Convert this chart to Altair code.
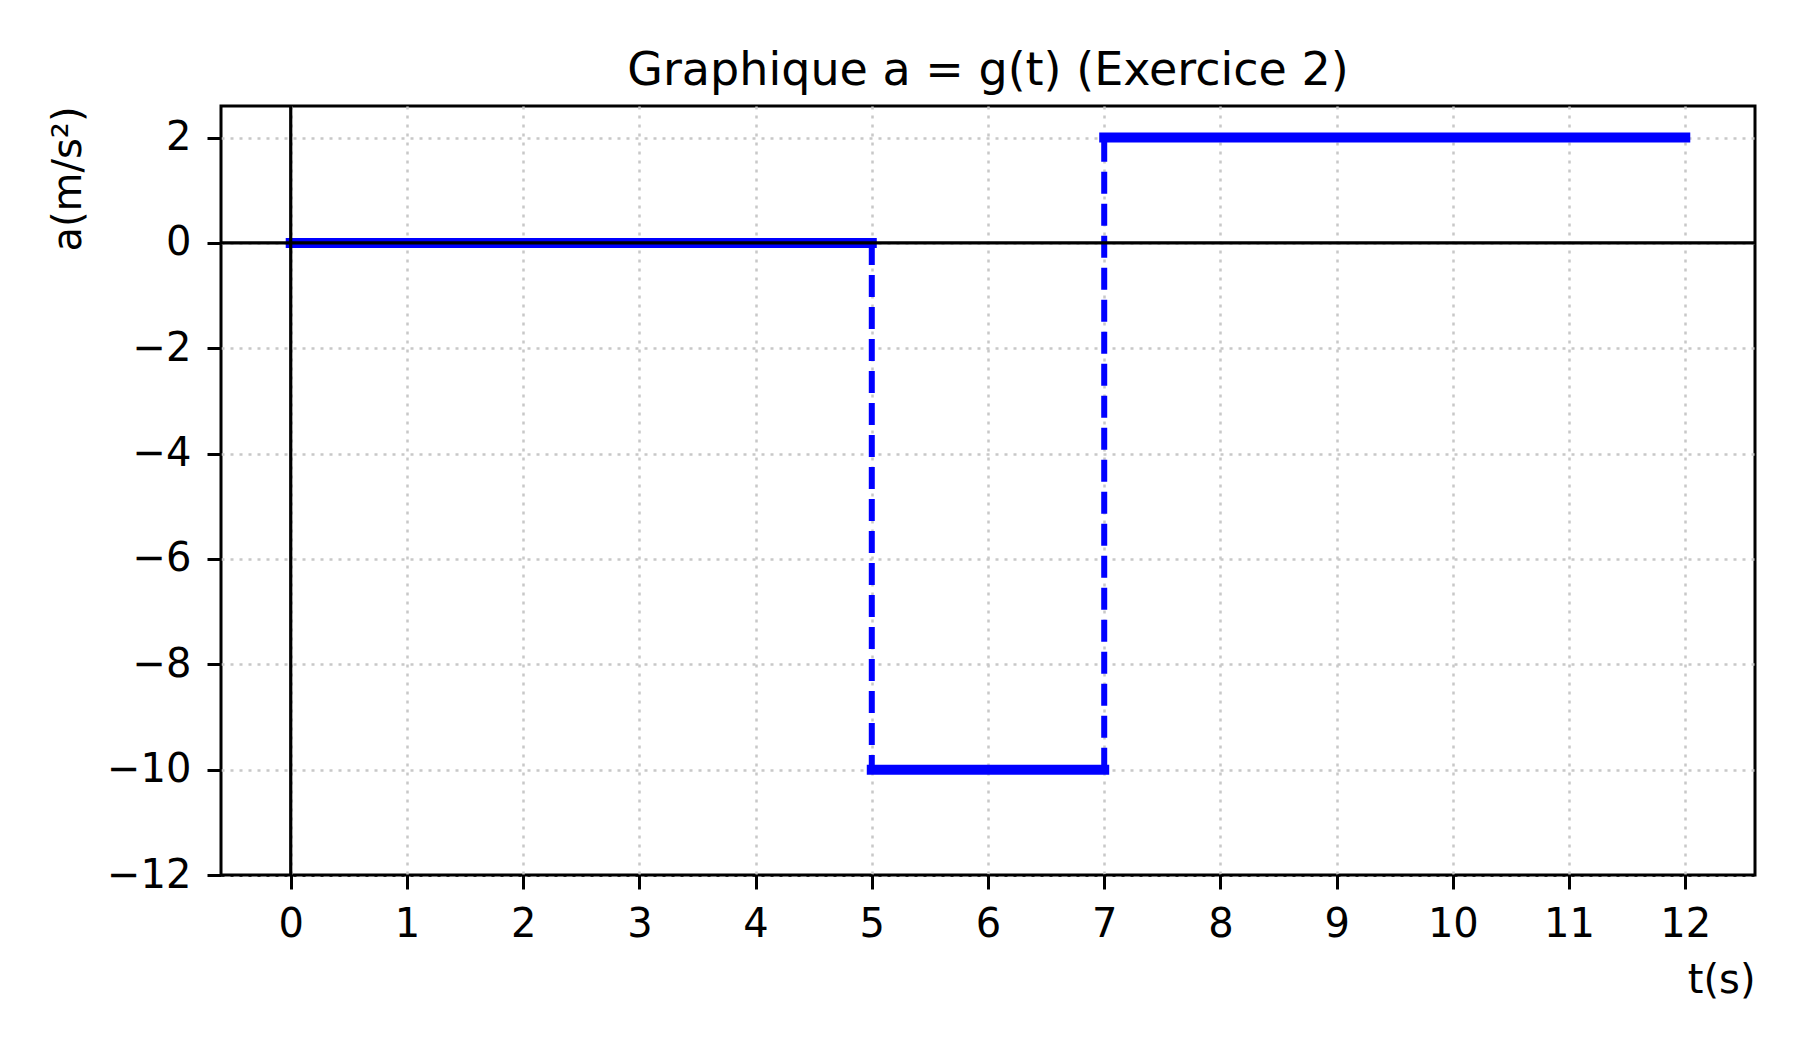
import altair as alt
import pandas as pd

# step function a = g(t)
t_start = [0, 5, 7]
t_end = [5, 7, 12]
a_value = [0, -10, 2]

# vertical jumps between the steps
t_jump = [5, 7]
a_from = [0, -10]
a_to = [-10, 2]

x_ticks = list(range(0, 13))
y_ticks = [-12, -10, -8, -6, -4, -2, 0, 2]

FONT = "DejaVu Sans"
BLUE = "#0000ff"
GRID = "#c8c8c8"

steps = pd.DataFrame({"t0": t_start, "t1": t_end, "a": a_value})
jumps = pd.DataFrame({"t": t_jump, "a0": a_from, "a1": a_to})
origin = pd.DataFrame({"v": [0]})

x_scale = alt.Scale(domain=[-0.6, 12.6], nice=False, zero=False)
y_scale = alt.Scale(domain=[-12, 2.6], nice=False, zero=False)

x_axis = alt.Axis(
    values=x_ticks, format="d", title="t(s)", titleAnchor="end",
    titleAlign="right", titleX=1534, titleY=117, titleBaseline="alphabetic",
    labelPadding=15,
)
y_axis = alt.Axis(
    values=y_ticks, format="d", title="a(m/s²)", titleAnchor="end",
    titleAngle=270, titleAlign="right", titleBaseline="alphabetic",
    titleX=-141, titleY=0, labelPadding=16,
    labelExpr="replace(datum.label, '-', '\u2212')",
    # the -12 grid line sits on the frame: keep the frame solid there
    gridColor={"condition": {"test": "datum.value == -12", "value": "black"},
               "value": GRID},
)

flat = alt.Chart(steps).mark_rule(
    color=BLUE, strokeWidth=10, strokeCap="square"
).encode(
    x=alt.X("t0:Q", scale=x_scale, axis=x_axis),
    x2="t1:Q",
    y=alt.Y("a:Q", scale=y_scale, axis=y_axis),
)

vertical = alt.Chart(jumps).mark_rule(
    color=BLUE, strokeWidth=6, strokeDash=[22, 10], strokeCap="butt"
).encode(
    x=alt.X("t:Q", scale=x_scale),
    y=alt.Y("a0:Q", scale=y_scale),
    y2="a1:Q",
)

hline = alt.Chart(origin).mark_rule(color="black", strokeWidth=3.2).encode(
    y=alt.Y("v:Q", scale=y_scale)
)
vline = alt.Chart(origin).mark_rule(color="black", strokeWidth=3.2).encode(
    x=alt.X("v:Q", scale=x_scale)
)

chart = alt.layer(flat, vertical, hline, vline).properties(
    width=1534,
    height=769,
    autosize=alt.AutoSizeParams(type="none"),
    padding={"left": 213, "top": 98, "right": 30, "bottom": 150},
    title=alt.Title(
        "Graphique a = g(t) (Exercice 2)", font=FONT, fontSize=46,
        fontWeight="normal", color="black", baseline="alphabetic",
        offset=24, dy=51, anchor="middle", frame="group",
    ),
).configure_axis(
    labelFont=FONT, labelFontSize=40, labelColor="black",
    titleFont=FONT, titleFontSize=40, titleFontWeight="normal", titleColor="black",
    tickColor="black", tickWidth=3, tickSize=14, domain=False,
    grid=True, gridColor=GRID, gridDash=[3, 6], gridWidth=2.5,
).configure_view(
    stroke="black", strokeWidth=3
)

chart.save("out.html", embed_options={"renderer": "svg", "actions": False})
